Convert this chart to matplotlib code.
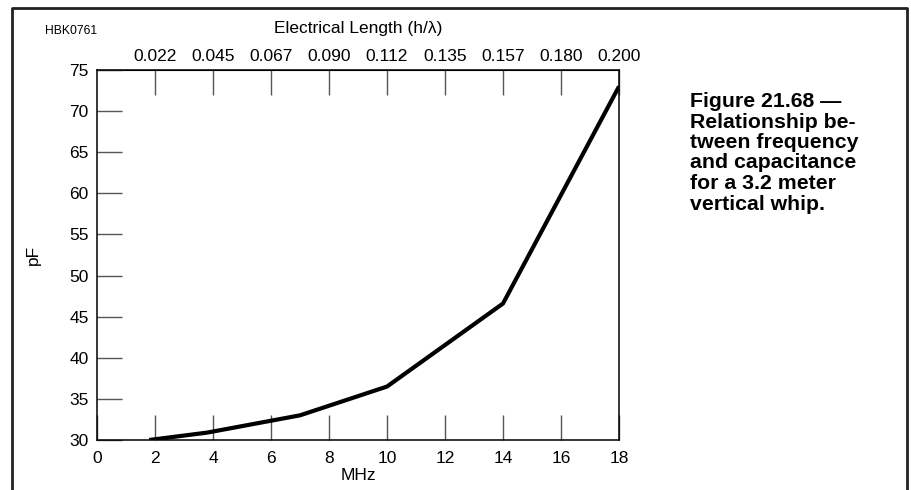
import matplotlib
matplotlib.use("Agg")
import matplotlib.pyplot as plt
from matplotlib.lines import Line2D

plt.rcParams['font.family'] = ['Liberation Sans', 'DejaVu Sans']

# frequency (MHz) vs capacitance (pF)
freq_mhz = [1.8, 3.8, 7.0, 10.0, 14.0, 18.0]
cap_pf = [30.0, 30.9, 33.0, 36.5, 46.6, 73.0]

x_ticks = [0, 2, 4, 6, 8, 10, 12, 14, 16, 18]
y_ticks = [30, 35, 40, 45, 50, 55, 60, 65, 70, 75]
top_ticks = [2, 4, 6, 8, 10, 12, 14, 16, 18]
top_labels = ['0.022', '0.045', '0.067', '0.090', '0.112', '0.135', '0.157', '0.180', '0.200']

caption = ("Figure 21.68 \u2014\nRelationship be-\ntween frequency\n"
           "and capacitance\nfor a 3.2 meter\nvertical whip.")

fig = plt.figure(figsize=(9.11, 4.90), dpi=100)
ax = fig.add_axes([97 / 911, 50 / 490, 522 / 911, 370 / 490])

ax.plot(freq_mhz, cap_pf, color='black', lw=3, solid_capstyle='butt')

ax.set_xlim(0, 18)
ax.set_ylim(30, 75)
ax.set_xticks(x_ticks)
ax.set_yticks(y_ticks)
ax.tick_params(direction='in', length=18, width=1, color='#555555',
               labelsize=12.5)
ax.tick_params(axis='x', pad=8)
ax.tick_params(axis='y', pad=6)
for s in ax.spines.values():
    s.set_linewidth(1.1)
ax.set_xlabel('MHz', fontsize=12.5, labelpad=1)
ax.set_ylabel('pF', fontsize=12.5, labelpad=20)

top = ax.secondary_xaxis('top')
top.set_xticks(top_ticks)
top.set_xticklabels(top_labels)
top.tick_params(direction='in', length=18, width=1, color='#555555',
                labelsize=12.5, pad=4)
top.set_xlabel('Electrical Length (h/\u03bb)', fontsize=12.5, labelpad=11.5)

# outer frame (open at bottom)
W, H = 911, 490
fx = [12 / W, 12 / W, 907 / W, 907 / W]
fy = [0, 1 - 8 / H, 1 - 8 / H, 0]
fig.add_artist(Line2D(fx, fy, transform=fig.transFigure, color='#222222', lw=2))

fig.text(45 / W, 1 - 31 / H, 'HBK0761', fontsize=8.7, va='center', ha='left')
fig.text(690 / W, 1 - 92 / H, caption, fontsize=15.3, fontweight='bold',
         va='top', ha='left', linespacing=1.1)

fig.savefig('out.png', dpi=100)
